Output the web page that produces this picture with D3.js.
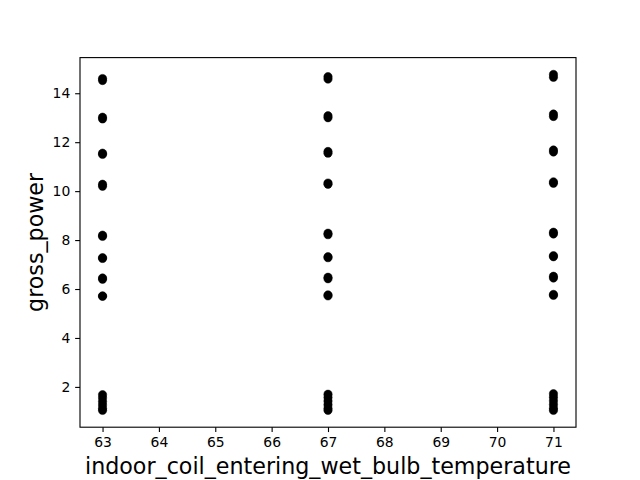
<!DOCTYPE html>
<html>
<head>
<meta charset="utf-8">
<script src="https://cdn.jsdelivr.net/npm/d3@7"></script>
<style>
  html, body { margin: 0; padding: 0; background: #fff; }
  svg { display: block; }
</style>
</head>
<body>
<svg id="chart" width="640" height="480"></svg>
<script>
// Data
const temps = [63, 67, 71];
const power63 = [14.52, 14.6, 12.95, 13.02, 11.5, 11.55, 10.2, 10.28, 8.15, 8.2, 7.25, 7.28, 6.4, 6.45, 5.7, 5.72, 1.04, 1.12, 1.26, 1.4, 1.55, 1.68];
const power67 = [14.58, 14.68, 13.0, 13.08, 11.55, 11.62, 10.28, 10.33, 8.22, 8.28, 7.28, 7.32, 6.42, 6.48, 5.72, 5.76, 1.04, 1.12, 1.27, 1.42, 1.57, 1.7];
const power71 = [14.65, 14.77, 13.05, 13.15, 11.6, 11.68, 10.32, 10.38, 8.25, 8.32, 7.32, 7.36, 6.45, 6.52, 5.74, 5.78, 1.04, 1.13, 1.28, 1.43, 1.58, 1.72];
const xTicks = [63, 64, 65, 66, 67, 68, 69, 70, 71];
const yTicks = [2, 4, 6, 8, 10, 12, 14];
const xLabel = "indoor_coil_entering_wet_bulb_temperature";
const yLabel = "gross_power";

const points = [];
[power63, power67, power71].forEach((arr, i) => arr.forEach(v => points.push({x: temps[i], y: v})));

const svg = d3.select("#chart");
const L = 80, R = 576, T = 57.6, B = 427.2;

const xExt = d3.extent(points, d => d.x);
const yExt = d3.extent(points, d => d.y);
const xPad = (xExt[1] - xExt[0]) * 0.05, yPad = (yExt[1] - yExt[0]) * 0.05;
const x = d3.scaleLinear().domain([xExt[0] - xPad, xExt[1] + xPad]).range([L, R]);
const y = d3.scaleLinear().domain([yExt[0] - yPad, yExt[1] + yPad]).range([B, T]);

const font = "DejaVu Sans, sans-serif";

svg.append("g").selectAll("circle").data(points).join("circle")
  .attr("cx", d => x(d.x)).attr("cy", d => y(d.y)).attr("r", 4.17)
  .attr("fill", "#000").attr("stroke", "#000").attr("stroke-width", 0.5);

const xAxis = svg.append("g").attr("transform", `translate(0,${B})`)
  .call(d3.axisBottom(x).tickValues(xTicks).tickFormat(d3.format("d")).tickSize(4.86).tickPadding(4.86));
const yAxis = svg.append("g").attr("transform", `translate(${L},0)`)
  .call(d3.axisLeft(y).tickValues(yTicks).tickFormat(d3.format("d")).tickSize(4.86).tickPadding(4.86));
[xAxis, yAxis].forEach(a => {
  a.select(".domain").remove();
  a.selectAll(".tick line").attr("stroke", "#000").attr("stroke-width", 1.11);
  a.selectAll(".tick text").attr("fill", "#000").style("font-family", font).style("font-size", "13.9px");
});

svg.append("rect").attr("x", L).attr("y", T).attr("width", R - L).attr("height", B - T)
  .attr("fill", "none").attr("stroke", "#000").attr("stroke-width", 1.11);

svg.append("text").attr("x", (L + R) / 2).attr("y", 474)
  .attr("text-anchor", "middle").style("font-family", font).style("font-size", "22.2px").attr("fill", "#000")
  .text(xLabel);
svg.append("text").attr("transform", `translate(43,${(T + B) / 2}) rotate(-90)`)
  .attr("text-anchor", "middle").style("font-family", font).style("font-size", "22.2px").attr("fill", "#000")
  .text(yLabel);
</script>
</body>
</html>
